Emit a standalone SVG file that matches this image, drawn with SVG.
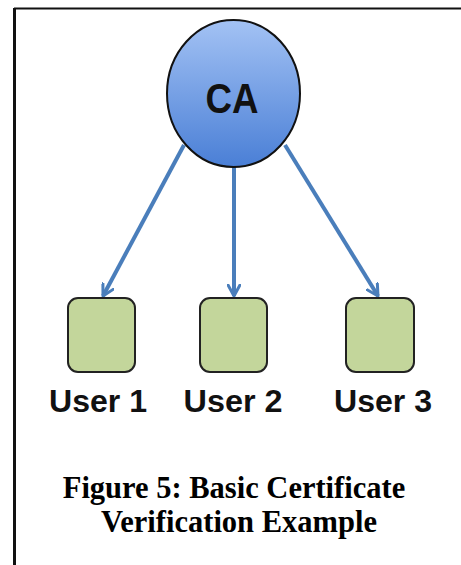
<svg xmlns="http://www.w3.org/2000/svg" width="461" height="565" viewBox="0 0 461 565">
  <defs>
    <linearGradient id="caFill" x1="0" y1="0" x2="0" y2="1">
      <stop offset="0" stop-color="#a3c2f4"/>
      <stop offset="1" stop-color="#4a7fd6"/>
    </linearGradient>
    <marker id="head" viewBox="0 0 14 14" refX="12" refY="7" markerWidth="14" markerHeight="14" markerUnits="userSpaceOnUse" orient="auto">
      <path d="M1,1 L12,7 L1,13" fill="none" stroke="#4a7ebb" stroke-width="3" stroke-linecap="round" stroke-linejoin="round"/>
    </marker>
  </defs>
  <style>
    .frame { stroke: #111; fill: none; }
    .link { stroke: #4a7ebb; stroke-width: 4; fill: none; marker-end: url(#head); }
    .user { fill: #c3d69b; stroke: #222; stroke-width: 2; }
    .label { font-family: "Liberation Sans", Arial, sans-serif; font-weight: bold; font-size: 32px; fill: #111; text-anchor: middle; }
    .ca-label { font-size: 43px; }
    .caption { font-family: "Liberation Serif", "Times New Roman", serif; font-weight: bold; font-size: 30.5px; fill: #000; text-anchor: middle; }
  </style>
  <rect width="461" height="565" fill="#fff"/>

  <!-- page frame -->
  <line class="frame" x1="14" y1="8.5" x2="461" y2="8.5" stroke-width="2"/>
  <line class="frame" x1="14.5" y1="8" x2="14.5" y2="565" stroke-width="3"/>

  <!-- connectors -->
  <g id="connectors">
    <line class="link" x1="184" y1="145" x2="103" y2="296"/>
    <line class="link" x1="234" y1="165" x2="234" y2="296"/>
    <line class="link" x1="285" y1="145" x2="378" y2="296"/>
  </g>

  <!-- certificate authority -->
  <g id="ca">
    <ellipse cx="233.5" cy="93.5" rx="66.5" ry="73.5" fill="url(#caFill)" stroke="#111" stroke-width="2"/>
    <text class="label ca-label" x="232" y="113" textLength="53" lengthAdjust="spacingAndGlyphs">CA</text>
  </g>

  <g id="user1">
    <rect class="user" x="68" y="298" width="67" height="74" rx="10"/>
    <text class="label" x="98" y="412" textLength="98" lengthAdjust="spacingAndGlyphs">User 1</text>
  </g>
  <g id="user2">
    <rect class="user" x="200" y="298" width="67" height="74" rx="10"/>
    <text class="label" x="233" y="412" textLength="99" lengthAdjust="spacingAndGlyphs">User 2</text>
  </g>
  <g id="user3">
    <rect class="user" x="346" y="298" width="68" height="74" rx="10"/>
    <text class="label" x="383" y="412" textLength="98" lengthAdjust="spacingAndGlyphs">User 3</text>
  </g>

  <!-- caption -->
  <g id="caption">
    <text class="caption" x="234" y="498">Figure 5: Basic Certificate</text>
    <text class="caption" x="239" y="532">Verification Example</text>
  </g>
</svg>
